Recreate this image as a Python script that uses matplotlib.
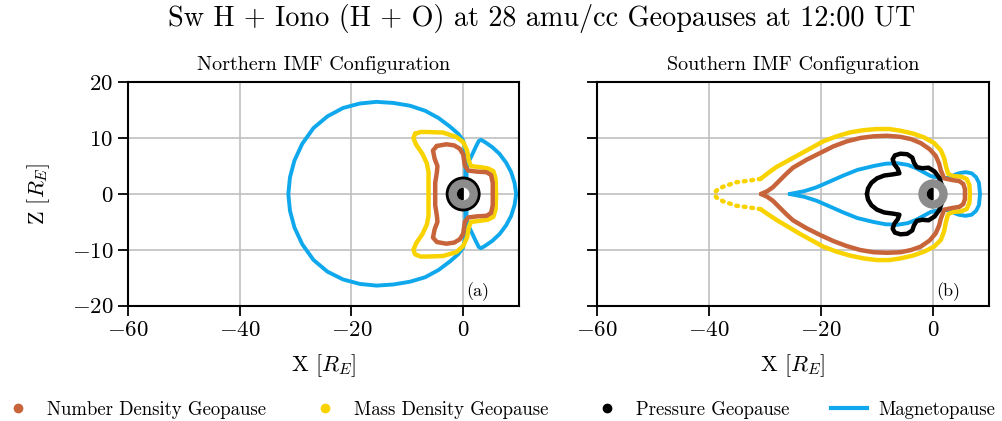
import numpy as np
import matplotlib.pyplot as plt
from matplotlib.lines import Line2D
from matplotlib.patches import Circle, Wedge

plt.rcParams['font.family'] = 'serif'
plt.rcParams['font.serif'] = ['cmr10']
plt.rcParams['mathtext.fontset'] = 'cm'
plt.rcParams['axes.formatter.use_mathtext'] = True
plt.rcParams['axes.unicode_minus'] = True

title = 'Sw H + Iono (H + O) at 28 amu/cc Geopauses at 12:00 UT'
panel_titles = ['Northern IMF Configuration', 'Southern IMF Configuration']
panel_tags = ['(a)', '(b)']
labels = ['Number Density Geopause', 'Mass Density Geopause',
          'Pressure Geopause', 'Magnetopause']

c_num = '#c8643a'
c_mass = '#f8d300'
c_pres = '#000000'
c_mag = '#10a8ec'

# ---- Northern IMF (X, Z) in R_E ----
n_mag_night = [(0.4, 2.7), (0.4, 5.0), (0.3, 8.0), (0.0, 9.6), (-0.9, 10.8),
               (-2.4, 12.1), (-4.4, 13.6), (-6.8, 14.9), (-9.5, 15.8),
               (-12.5, 16.3), (-15.5, 16.5), (-18.5, 16.2), (-21.5, 15.4),
               (-24.3, 13.9), (-26.8, 11.8), (-28.8, 9.0), (-30.2, 6.0),
               (-31.0, 3.0), (-31.3, 0.0), (-31.0, -3.0), (-30.2, -6.0),
               (-28.8, -9.0), (-26.8, -11.8), (-24.3, -13.9), (-21.5, -15.3),
               (-18.5, -16.1), (-15.5, -16.4), (-12.5, -16.2), (-9.5, -15.7),
               (-6.8, -14.9), (-4.4, -13.6), (-2.4, -12.1), (-0.9, -10.8),
               (0.0, -9.6), (0.3, -8.0), (0.4, -5.0), (0.4, -2.7)]
n_mag_day = [(0.6, 0.0), (0.6, 4.5), (1.0, 5.8), (1.5, 6.8), (2.2, 8.3),
             (2.8, 9.5), (3.2, 9.7), (3.9, 9.3), (5.2, 8.4), (6.5, 7.2),
             (7.7, 5.6), (8.6, 3.9), (9.2, 2.0), (9.5, 0.0), (9.2, -2.0),
             (8.6, -3.9), (7.7, -5.6), (6.5, -7.2), (5.2, -8.4), (3.9, -9.3),
             (3.2, -9.7), (2.8, -9.5), (2.2, -8.3), (1.5, -6.8), (1.0, -5.8),
             (0.6, -4.5), (0.6, 0.0)]
n_mass = [(-8.6, 10.8), (-7.6, 11.1), (-6.5, 11.1), (-3.6, 11.0), (-1.2, 10.2),
          (0.0, 9.3), (0.7, 7.8), (1.0, 6.0), (1.4, 5.0), (3.0, 4.8), (4.4, 4.6),
          (5.4, 4.1), (5.8, 2.8), (5.9, 0.0), (5.8, -2.8), (5.4, -4.1),
          (4.4, -4.6), (3.0, -4.8), (1.4, -5.0), (1.0, -6.0), (0.7, -7.8),
          (0.0, -9.3), (-1.2, -10.4), (-3.6, -11.1), (-6.5, -11.2), (-7.6, -11.2),
          (-8.6, -10.8), (-8.9, -10.0), (-8.4, -8.8), (-7.3, -7.2), (-6.5, -5.5),
          (-6.2, -3.9), (-6.2, 0.0), (-6.2, 3.9), (-6.5, 5.5), (-7.3, 7.2),
          (-8.4, 8.8), (-8.9, 10.0), (-8.6, 10.8)]
n_num = [(-4.7, 8.6), (-3.0, 8.9), (-1.6, 8.7), (-0.6, 8.1), (0.0, 7.1),
         (0.3, 5.1), (0.9, 4.2), (2.5, 4.0), (4.2, 3.9), (5.0, 3.4), (5.3, 2.0),
         (5.3, 0.0), (5.3, -2.0), (5.0, -3.4), (4.2, -3.9), (2.5, -4.0),
         (0.9, -4.2), (0.3, -5.0), (0.0, -7.1), (-0.6, -8.1), (-1.6, -8.7),
         (-3.0, -8.9), (-4.7, -8.6), (-5.4, -7.8), (-5.1, -6.3), (-4.6, -5.0),
         (-4.7, -3.9), (-5.0, -2.0), (-5.0, 0.0), (-5.0, 2.0), (-4.7, 3.9),
         (-4.6, 5.0), (-5.1, 6.3), (-5.4, 7.8), (-4.7, 8.6)]
n_pres_r = 2.75

# ---- Southern IMF ----
s_mass_tail = [(-30.8, 2.7), (-32.8, 2.4), (-35.1, 2.1), (-37.5, 1.3), (-38.7, 0.6),
               (-39.0, 0.0), (-38.7, -0.6), (-37.5, -1.3), (-35.1, -2.1),
               (-32.8, -2.4), (-30.8, -2.7)]
s_mass = [(-30.8, 2.7), (-29.5, 3.7), (-28.0, 4.8), (-25.8, 6.0), (-23.8, 7.1),
          (-21.6, 8.3), (-19.6, 9.4), (-17.2, 10.3), (-14.8, 11.0), (-12.4, 11.4),
          (-10.0, 11.6), (-7.8, 11.6), (-5.8, 11.3), (-3.6, 10.8), (-1.6, 10.1),
          (0.2, 9.1), (1.4, 7.8), (2.0, 6.4), (2.3, 5.0), (2.7, 3.6), (3.6, 3.2),
          (5.0, 3.1), (6.0, 2.7), (6.5, 1.6), (6.6, 0.0), (6.5, -1.6),
          (6.0, -2.7), (5.0, -3.1), (3.6, -3.2), (2.7, -3.6), (2.3, -5.0),
          (2.0, -6.6), (1.4, -8.2), (0.2, -9.4), (-1.6, -10.3), (-3.6, -11.0),
          (-5.8, -11.5), (-7.8, -11.8), (-10.0, -11.8), (-12.4, -11.5),
          (-14.8, -11.0), (-17.2, -10.3), (-19.6, -9.4), (-21.6, -8.3),
          (-23.8, -7.1), (-25.8, -5.9), (-28.0, -4.6), (-29.5, -3.6), (-30.8, -2.7)]
s_num = [(-30.7, 0.0), (-29.6, 0.5), (-28.6, 1.2), (-27.4, 2.4), (-26.2, 3.6),
         (-25.0, 4.7), (-22.6, 6.1), (-20.2, 7.3), (-17.8, 8.5), (-15.4, 9.4),
         (-13.0, 10.0), (-10.6, 10.3), (-8.2, 10.4), (-5.8, 10.2), (-3.9, 9.8),
         (-2.2, 9.1), (-0.6, 8.0), (0.5, 6.8), (1.1, 5.4), (1.4, 4.2), (2.0, 2.8),
         (3.4, 2.5), (4.7, 2.3), (5.4, 1.8), (5.7, 0.9), (5.7, 0.0), (5.7, -0.9),
         (5.4, -1.8), (4.7, -2.3), (3.4, -2.5), (2.0, -2.8), (1.4, -4.4),
         (1.1, -5.6), (0.5, -7.0), (-0.6, -8.3), (-2.2, -9.4), (-3.9, -10.0),
         (-5.8, -10.4), (-8.2, -10.5), (-10.6, -10.4), (-13.0, -10.0),
         (-15.4, -9.3), (-17.8, -8.4), (-20.2, -7.3), (-22.6, -6.1),
         (-25.0, -4.7), (-26.2, -3.6), (-27.4, -2.4), (-28.6, -1.2),
         (-29.6, -0.5), (-30.7, 0.0)]
s_mag = [(-25.6, 0.0), (-23.0, 0.5), (-20.8, 1.2), (-18.5, 2.2), (-16.0, 3.3),
         (-13.5, 4.3), (-10.6, 5.0), (-8.5, 5.4), (-6.4, 5.5), (-4.5, 5.2),
         (-3.0, 4.6), (-1.5, 3.8), (-0.4, 3.2), (1.5, 2.8), (3.3, 2.9),
         (3.8, 3.4), (4.6, 3.7), (5.8, 3.9), (6.9, 3.7), (7.7, 3.0), (8.2, 2.0),
         (8.4, 0.0), (8.2, -2.0), (7.7, -3.0), (6.9, -3.7), (5.8, -3.9),
         (4.6, -3.7), (3.8, -3.4), (3.3, -2.9), (1.5, -2.8), (-0.4, -3.2),
         (-1.5, -3.8), (-3.0, -4.6), (-4.5, -5.2), (-6.4, -5.5), (-8.5, -5.4),
         (-10.6, -5.0), (-13.5, -4.3), (-16.0, -3.3), (-18.5, -2.2),
         (-20.8, -1.2), (-23.0, -0.5), (-25.6, 0.0)]
s_pres = [(-11.8, 0.0), (-11.6, 1.0), (-11.0, 2.0), (-10.0, 2.8), (-8.7, 3.3),
          (-7.2, 3.5), (-6.0, 3.7), (-6.3, 4.5), (-6.9, 5.3), (-7.2, 6.2),
          (-6.8, 6.9), (-5.8, 7.2), (-4.6, 7.1), (-3.7, 6.5), (-3.4, 5.6),
          (-2.9, 4.8), (-1.9, 4.6), (-0.8, 4.7), (0.3, 4.0), (1.1, 2.9),
          (1.6, 1.5), (1.7, 0.0), (1.6, -1.5), (1.1, -2.9), (0.3, -4.0),
          (-0.8, -4.7), (-1.9, -4.6), (-2.9, -4.8), (-3.4, -5.6), (-3.7, -6.5),
          (-4.6, -7.1), (-5.8, -7.2), (-6.8, -6.9), (-7.2, -6.2), (-6.9, -5.3),
          (-6.3, -4.5), (-6.0, -3.7), (-7.2, -3.5), (-8.7, -3.3), (-10.0, -2.8),
          (-11.0, -2.0), (-11.6, -1.0), (-11.8, 0.0)]

xt = [-60, -40, -20, 0]
yt = [-20, -10, 0, 10, 20]


def xy(pts):
    a = np.array(pts)
    return a[:, 0], a[:, 1]


def earth(ax):
    ax.add_patch(Circle((0, 0), 2.5, color='#8c8c8c', zorder=10))
    ax.add_patch(Circle((0, 0), 1.0, color='white', zorder=11))
    ax.add_patch(Wedge((0, 0), 1.0, 90, 270, color='black', zorder=12))


fig = plt.figure(figsize=(10.03, 4.21), dpi=100)
ax1 = fig.add_axes([128 / 1003, 1 - 306 / 421, 391 / 1003, 224 / 421])
ax2 = fig.add_axes([597 / 1003, 1 - 306 / 421, 392 / 1003, 224 / 421])

lw = 3.2
kw = dict(solid_joinstyle='round', solid_capstyle='round')

ax1.plot(*xy(n_mag_night), color=c_mag, lw=2.8, **kw)
ax1.plot(*xy(n_mag_day), color=c_mag, lw=2.8, **kw)
ax1.plot(*xy(n_mass), color=c_mass, lw=lw, **kw)
ax1.plot(*xy(n_num), color=c_num, lw=lw, **kw)
ax1.add_patch(Circle((0, 0), n_pres_r, fill=False, ec=c_pres, lw=3, zorder=9))
earth(ax1)

ax2.plot(*xy(s_mag), color=c_mag, lw=2.8, **kw)
ax2.plot(*xy(s_mass), color=c_mass, lw=lw, **kw)
ax2.plot(*xy(s_mass_tail), color=c_mass, lw=lw, linestyle=(0, (0.4, 1.3)),
         dash_capstyle='round')
ax2.plot(*xy(s_num), color=c_num, lw=lw, **kw)
ax2.plot(*xy(s_pres), color=c_pres, lw=lw, **kw)
earth(ax2)

for ax, t, tag in zip([ax1, ax2], panel_titles, panel_tags):
    ax.set_xlim(-60, 10)
    ax.set_ylim(-20, 20)
    ax.set_aspect('equal')
    ax.set_xticks(xt)
    ax.set_yticks(yt)
    ax.grid(True, color='#c0c0c0', lw=1.2)
    ax.set_axisbelow(True)
    ax.tick_params(labelsize=16.5, length=7, width=1.3, direction='out')
    for s in ax.spines.values():
        s.set_linewidth(1.5)
    ax.set_title(t, fontsize=14.5, pad=9)
    ax.set_xlabel(r'X $[R_E]$', fontsize=16, labelpad=9)
    ax.text(0.865, 0.045, tag, transform=ax.transAxes, fontsize=13)

ax1.set_ylabel(r'Z $[R_E]$', fontsize=16, labelpad=14)
ax2.tick_params(labelleft=False)

fig.suptitle(title, fontsize=20.3, x=0.5404, y=0.99)

handles = [Line2D([], [], ls='none', marker='o', ms=6, color=c_num),
           Line2D([], [], ls='none', marker='o', ms=6, color=c_mass),
           Line2D([], [], ls='none', marker='o', ms=6, color=c_pres),
           Line2D([], [], color=c_mag, lw=3)]
fig.legend(handles, labels, loc='center left', ncol=4, frameon=False,
           fontsize=13.5, bbox_to_anchor=(0.0, 0.026), borderpad=0,
           borderaxespad=0, columnspacing=2.2, handlelength=1.9,
           handletextpad=0.6)

plt.savefig('out.png', dpi=100)
